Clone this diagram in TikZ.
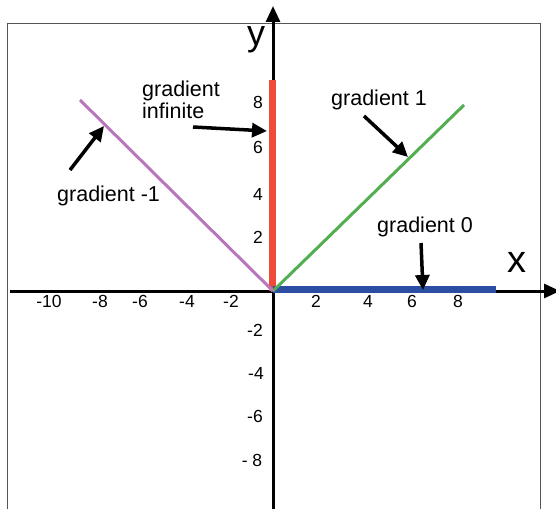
\documentclass[tikz,border=0pt]{standalone}
\usepackage{fontspec}
\setmainfont{Liberation Sans}
\usetikzlibrary{arrows.meta}
\definecolor{cred}{HTML}{EE4B3B}
\definecolor{cblue}{HTML}{2B4EA2}
\definecolor{cgreen}{HTML}{52AE50}
\definecolor{cpurple}{HTML}{B877BD}
\definecolor{cframe}{HTML}{555555}
\begin{document}
\begin{tikzpicture}[x=1pt,y=-1pt,
  axisline/.style={line width=3pt,-{Triangle[length=16pt,width=14pt]}},
  ann/.style={line width=3.5pt,-{Triangle[length=15pt,width=14pt]}},
  lbl/.style={font=\fontsize{21.5}{22}\selectfont,inner sep=0pt,anchor=base west},
  tk/.style={font=\fontsize{17.5}{18}\selectfont,inner sep=0pt},
  big/.style={inner sep=0pt}]
\useasboundingbox (0,0) rectangle (556,508);
% frame
\draw[cframe,line width=1pt] (7,510) -- (7,24) -- (540,24) -- (540,510);
% axes
\coordinate (O) at (273,291);
\coordinate (xs) at (10,291);
\coordinate (xe) at (560,291);
\coordinate (ys) at (273,510);
\coordinate (ye) at (273,6);
\draw[axisline] (xs) -- (xe);
\draw[axisline] (ys) -- (ye);
% lines
\coordinate (rtop) at (272,80);
\coordinate (rbot) at (272,291);
\draw[cred,line width=7pt] (rbot) -- (rtop);
\coordinate (bs) at (273,289);
\coordinate (be) at (496,289);
\draw[cblue,line width=7pt] (bs) -- (be);
\coordinate (gend) at (464,105);
\draw[cgreen,line width=3pt] (O) -- (gend);
\coordinate (pend) at (80,100);
\draw[cpurple,line width=3pt] (O) -- (pend);
% axis letters
\node[big,font=\fontsize{36}{36}\selectfont] (ylab) at (256,40) {y};
\node[big,font=\fontsize{38}{38}\selectfont] (xlab) at (517,262) {x};
% tick labels x
\node[tk] (tm10) at (49,301.5) {-10};
\node[tk] (tm8) at (100,301.5) {-8};
\node[tk] (tm6) at (140,301.5) {-6};
\node[tk] (tm4) at (187,301.5) {-4};
\node[tk] (tm2) at (231,301.5) {-2};
\node[tk] (tp2) at (316,301.5) {2};
\node[tk] (tp4) at (368,301.5) {4};
\node[tk] (tp6) at (412,301.5) {6};
\node[tk] (tp8) at (458,301.5) {8};
% tick labels y
\node[tk] (ty8) at (258,102) {8};
\node[tk] (ty6) at (258,147) {6};
\node[tk] (ty4) at (258,194) {4};
\node[tk] (ty2) at (258,237.5) {2};
\node[tk] (tym2) at (255,330) {-2};
\node[tk] (tym4) at (256,373) {-4};
\node[tk] (tym6) at (255,416.5) {-6};
\node[tk] (tym8) at (252,460) {- 8};
% labels
\node[lbl] (ginf1) at (142,96) {gradient};
\node[lbl] (ginf2) at (142,118) {infinite};
\node[lbl] (gm1) at (57,201) {gradient -1};
\node[lbl] (gp1) at (331,106) {gradient 1};
\node[lbl] (g0) at (377,232) {gradient 0};
% annotation arrows
\coordinate (ainf) at (193,127);
\coordinate (tinf) at (267,131);
\draw[ann] (ainf) -- (tinf);
\coordinate (am1) at (70,170);
\coordinate (tm1) at (104,126);
\draw[ann] (am1) -- (tm1);
\coordinate (ap1) at (364,116);
\coordinate (tp1) at (408,157);
\draw[ann] (ap1) -- (tp1);
\coordinate (a0) at (421,243);
\coordinate (t0) at (423,290);
\draw[ann] (a0) -- (t0);
\end{tikzpicture}
\end{document}
